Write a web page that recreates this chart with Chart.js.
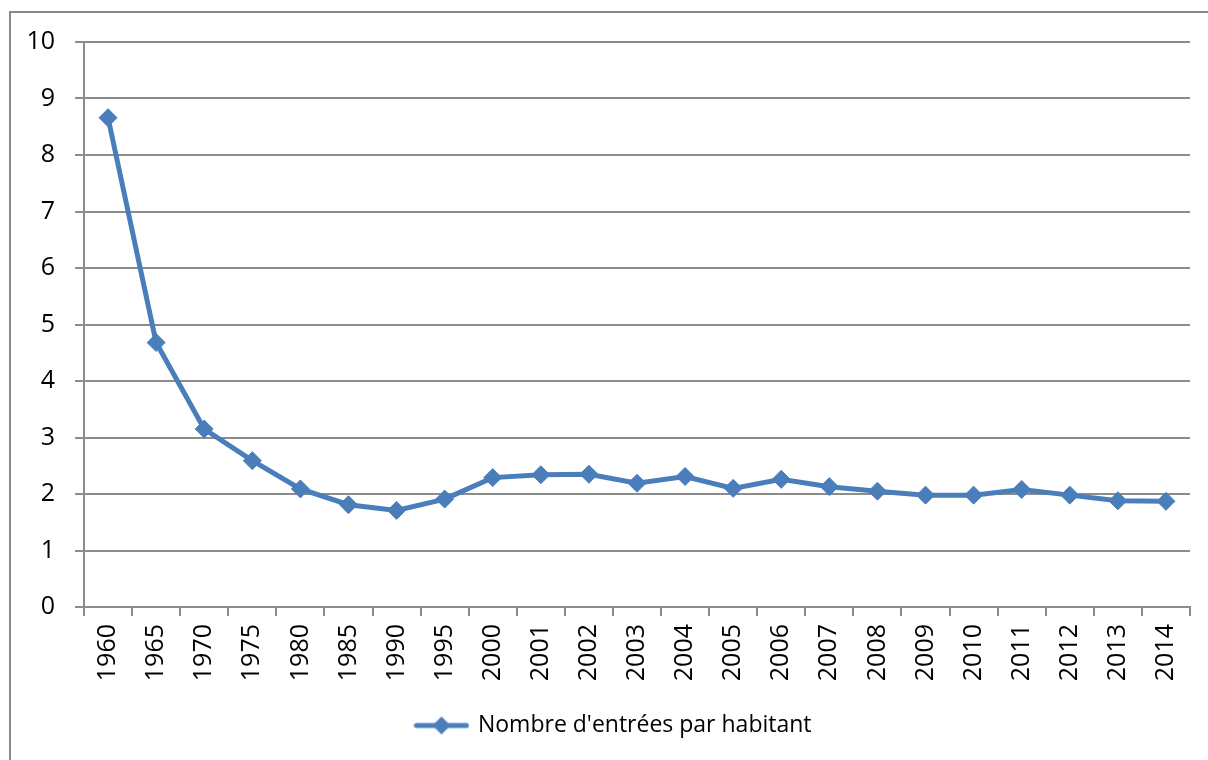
<!DOCTYPE html>
<html>
<head>
<meta charset="utf-8">
<script src="https://cdn.jsdelivr.net/npm/chart.js@4/dist/chart.umd.min.js"></script>
<style>
  html, body { margin: 0; padding: 0; background: #ffffff; overflow: hidden; }
  #wrap { position: relative; width: 1208px; height: 760px; }
</style>
</head>
<body>
<div id="wrap"><canvas id="chart" width="1208" height="760"></canvas></div>
<script>
// Cinema attendance: number of admissions per inhabitant
const years = ['1960', '1965', '1970', '1975', '1980', '1985', '1990', '1995',
  '2000', '2001', '2002', '2003', '2004', '2005', '2006', '2007', '2008',
  '2009', '2010', '2011', '2012', '2013', '2014'];
const entriesPerInhabitant = [8.66, 4.68, 3.15, 2.59, 2.09, 1.81, 1.71, 1.91,
  2.29, 2.34, 2.35, 2.19, 2.31, 2.10, 2.26, 2.13, 2.05,
  1.98, 1.98, 2.08, 1.98, 1.88, 1.87];
const seriesName = "Nombre d'entrées par habitant";
const yTicks = [0, 1, 2, 3, 4, 5, 6, 7, 8, 9, 10];

const BLUE = '#4a7ebb';
const GRID = '#8c8c8c';
const FONT = "'Open Sans', 'DejaVu Sans', sans-serif";

// Legend symbol: a short line with a diamond in the middle
function legendSymbol() {
  const c = document.createElement('canvas');
  c.width = 56; c.height = 20;
  const g = c.getContext('2d');
  g.strokeStyle = BLUE; g.lineWidth = 5; g.lineCap = 'round';
  g.beginPath(); g.moveTo(3, 10); g.lineTo(53, 10); g.stroke();
  g.fillStyle = BLUE;
  g.beginPath(); g.moveTo(28, 1); g.lineTo(37, 10); g.lineTo(28, 19); g.lineTo(19, 10); g.closePath(); g.fill();
  return c;
}

// Outer frame of the chart object
const framePlugin = {
  id: 'frame',
  beforeDraw(chart) {
    const ctx = chart.ctx;
    ctx.save();
    ctx.strokeStyle = '#8a8a8a';
    ctx.lineWidth = 2;
    ctx.beginPath();
    ctx.moveTo(10, 760);
    ctx.lineTo(10, 12);
    ctx.lineTo(1208, 12);
    ctx.stroke();
    ctx.restore();
  }
};

// Centre the legend under the plot area rather than the whole canvas
const legendCenterPlugin = {
  id: 'legendCenter',
  afterLayout(chart) {
    const lg = chart.legend;
    if (!lg) return;
    const area = chart.chartArea;
    const shift = (area.left + area.right) / 2 - (lg.left + lg.right) / 2 - 23;
    lg.left += shift;
    lg.right += shift;
  }
};

new Chart(document.getElementById('chart'), {
  type: 'line',
  data: {
    labels: years,
    datasets: [{
      label: seriesName,
      data: entriesPerInhabitant,
      borderColor: BLUE,
      backgroundColor: BLUE,
      borderWidth: 5,
      pointStyle: 'rectRot',
      pointRadius: 9,
      pointHoverRadius: 9,
      pointBackgroundColor: BLUE,
      pointBorderColor: BLUE,
      pointBorderWidth: 1,
      tension: 0,
      fill: false
    }]
  },
  options: {
    responsive: false,
    animation: false,
    events: [],
    layout: { padding: { top: 42, right: 18, left: 0, bottom: 13 } },
    plugins: {
      legend: {
        display: true,
        position: 'bottom',
        labels: {
          usePointStyle: true,
          pointStyle: legendSymbol(),
          pointStyleWidth: 50,
          color: '#000000',
          font: { family: FONT, size: 23 },
          padding: 10
        }
      },
      tooltip: { enabled: false }
    },
    scales: {
      x: {
        type: 'category',
        offset: true,
        grid: {
          offset: true,
          drawOnChartArea: false,
          drawTicks: true,
          tickLength: 9,
          color: GRID,
          lineWidth: 2
        },
        border: { display: true, color: GRID, width: 2 },
        ticks: {
          autoSkip: false,
          minRotation: 90,
          maxRotation: 90,
          padding: 8,
          color: '#000000',
          font: { family: FONT, size: 25 }
        },
        afterFit(scale) { scale.height = 97; }
      },
      y: {
        min: 0,
        max: 10,
        afterBuildTicks(scale) { scale.ticks = yTicks.map(v => ({ value: v })); },
        grid: {
          color: GRID,
          lineWidth: 2,
          tickLength: 9
        },
        border: { display: true, color: GRID, width: 2 },
        ticks: {
          padding: 20,
          color: '#000000',
          font: { family: FONT, size: 25 }
        },
        afterFit(scale) { scale.width = 84; }
      }
    }
  },
  plugins: [framePlugin, legendCenterPlugin]
});
</script>
</body>
</html>
